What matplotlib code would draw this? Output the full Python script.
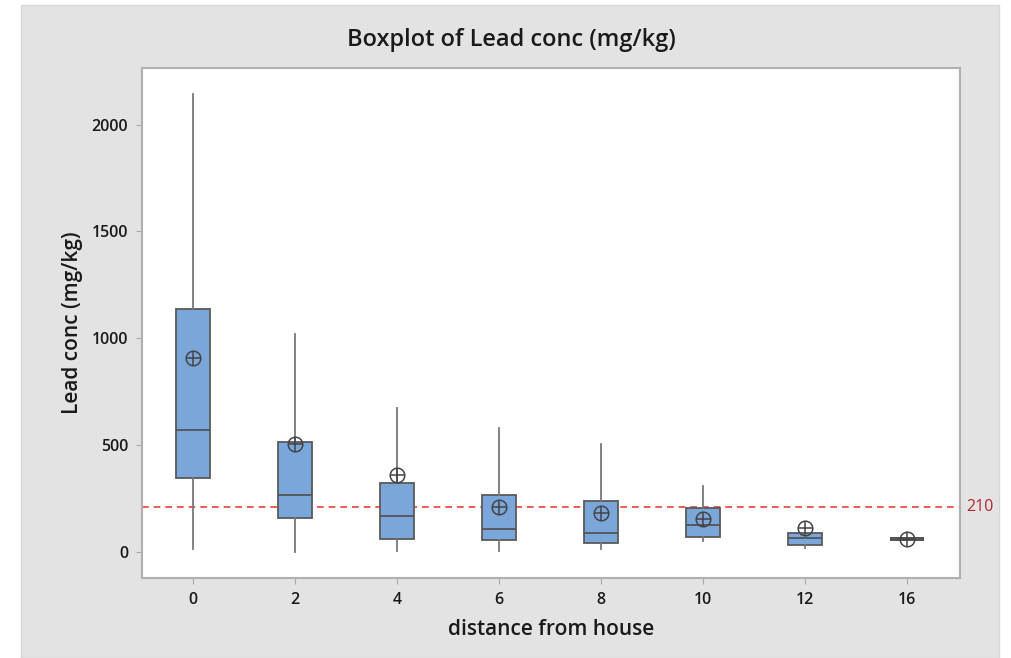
import matplotlib
matplotlib.use("Agg")
import matplotlib.pyplot as plt
from matplotlib.patches import Rectangle

# values
distance = ['0', '2', '4', '6', '8', '10', '12', '16']
q1 = [345, 158, 59, 56, 41, 69, 31, 61]
med = [571, 267, 168, 106, 90, 128, 64, 61]
q3 = [1136, 513, 324, 265, 240, 207, 87, 61]
whislo = [13, 0, 6, 6, 13, 53, 17, 61]
whishi = [2142, 1019, 674, 582, 504, 309, 87, 61]
means = [906, 504, 360, 209, 184, 153, 111, 61]
ref_value = 210

plt.rcParams['font.family'] = ['Open Sans', 'DejaVu Sans']

fig = plt.figure(figsize=(10.12, 6.58), dpi=100, facecolor='white')
# grey panel behind the plot
fig.patches.append(Rectangle((21 / 1012, 0), 978 / 1012, 653 / 658, transform=fig.transFigure,
                             facecolor='#e3e3e3', edgecolor='#d6d6d6', lw=1, zorder=-5))

ax = fig.add_axes([142 / 1012, 1 - 578 / 658, 818 / 1012, 510 / 658])
ax.set_facecolor('white')
ax.set_zorder(2)

stats = []
for i, name in enumerate(distance):
    stats.append(dict(label=name, q1=q1[i], med=med[i], q3=q3[i],
                      whislo=whislo[i], whishi=whishi[i], mean=means[i], fliers=[]))

pos = list(range(len(distance)))
bp = ax.bxp(stats, positions=pos, widths=0.33, patch_artist=True, showcaps=False,
            showmeans=False, manage_ticks=False,
            boxprops=dict(facecolor='#7aa6da', edgecolor='#5a5a5a', lw=1.3),
            medianprops=dict(color='#555555', lw=1.3),
            whiskerprops=dict(color='#777777', lw=1.3))
# the flat box at 16 shows up as a thick line
bp['boxes'][-1].set_linewidth(2.8)
bp['medians'][-1].set_linewidth(2.8)

# Minitab style mean symbol: circle with a cross
ax.plot(pos, means, 'o', ms=10.5, mfc='none', mec='#444444', mew=1.1, zorder=5)
ax.plot(pos, means, '+', ms=10.5, mec='#444444', mew=1.1, zorder=5)

ax.axhline(ref_value, color='#e8413c', ls=(0, (4, 3)), lw=1.2, zorder=1)
ax.text(1.008, ref_value, str(ref_value), transform=ax.get_yaxis_transform(),
        color='#b2262b', fontsize=11.5, va='center', ha='left')

ax.set_xlim(-0.5, 7.52)
ax.set_ylim(-122, 2265)
ax.set_xticks(pos)
ax.set_xticklabels(distance)
ax.set_yticks([0, 500, 1000, 1500, 2000])
ax.tick_params(length=4, color='#a8a8a8', labelsize=11.5, labelcolor='#1a1a1a', pad=6)
for lab in ax.get_xticklabels() + ax.get_yticklabels():
    lab.set_fontweight('semibold')

for s in ax.spines.values():
    s.set_color('#b0b0b0')
    s.set_linewidth(1.5)

ax.set_xlabel('distance from house', fontsize=15, fontweight='semibold', color='#1a1a1a', labelpad=8)
ax.set_ylabel('Lead conc (mg/kg)', fontsize=15, fontweight='semibold', color='#1a1a1a', labelpad=6)
fig.text(0.505, 1 - 40 / 658, 'Boxplot of Lead conc (mg/kg)', fontsize=17, fontweight='semibold',
         ha='center', va='center', color='#1a1a1a')

fig.savefig('out.png', dpi=100, facecolor=fig.get_facecolor())
